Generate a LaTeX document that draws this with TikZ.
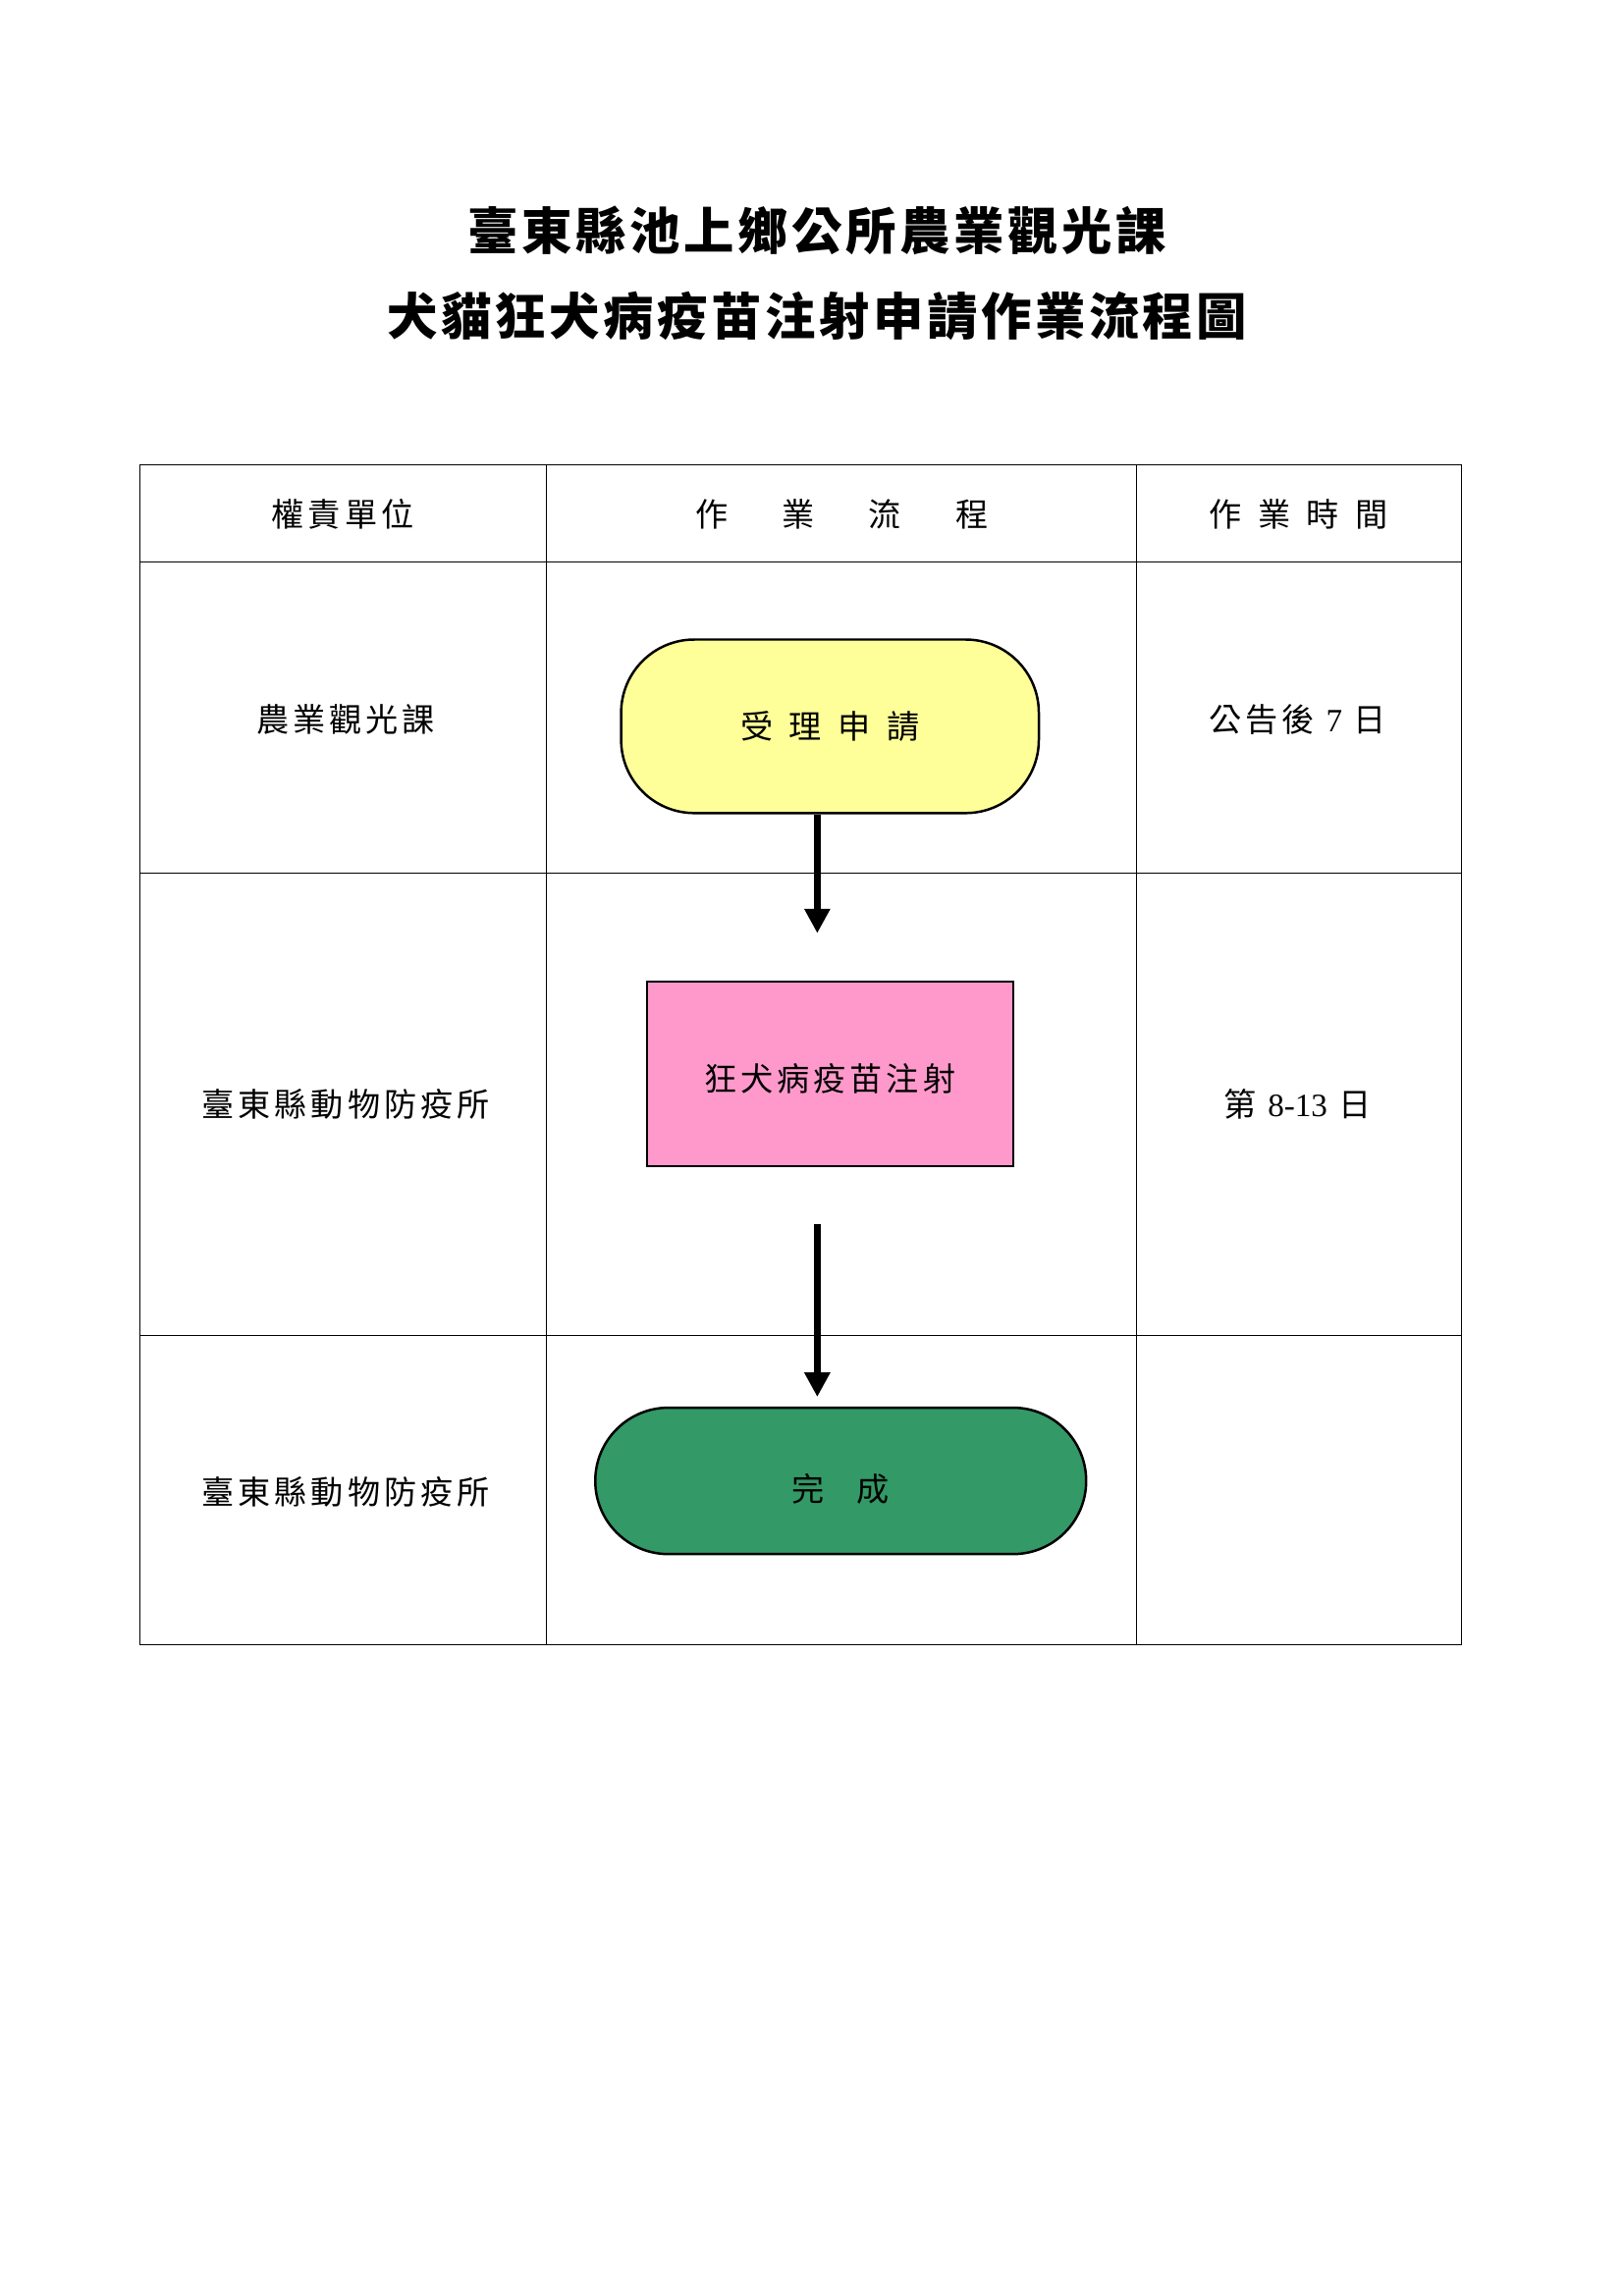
\documentclass[tikz,border=0pt]{standalone}
\usepackage{fontspec}
\setmainfont{Liberation Serif}
\newfontfamily\cjk{Noto Sans CJK TC}[LetterSpace=12]
\newfontfamily\cjktitle{Noto Sans CJK TC}[LetterSpace=7]
\usetikzlibrary{arrows.meta}

\definecolor{applyyellow}{HTML}{FFFF99}
\definecolor{shotpink}{HTML}{FF99CC}
\definecolor{donegreen}{HTML}{339966}

\begin{document}
\begin{tikzpicture}[x=0.36pt, y=-0.36pt,
    titletext/.style={font=\cjktitle\bfseries\fontsize{18.6}{22}\selectfont},
    cell/.style={font=\cjk\fontsize{12}{14}\selectfont},
    terminal/.style={cell, draw, line width=0.9pt, rounded corners=27pt},
    process/.style={cell, draw, line width=0.9pt, rectangle},
    grid/.style={draw=black, line width=0.4pt},
    flow/.style={line width=2.6pt, -{Triangle[width=9pt,length=9pt]}}]
        \fill[white] (0,0) rectangle (1663,2352);
        \useasboundingbox (0,0) rectangle (1663,2352);

        \node[titletext] (title1) at (837,236) {臺東縣池上鄉公所農業觀光課};
        \node[titletext] (title2) at (837,324) {犬貓狂犬病疫苗注射申請作業流程圖};

        % table
        \draw[grid] (143,476) rectangle (1497,1685);
        \foreach \y in {576,894,1368} \draw[grid] (143,\y) -- (1497,\y);
        \foreach \x in {560,1164} \draw[grid] (\x,476) -- (\x,1685);

        \node[cell] (unithead) at (351,527) {權責單位};
        \node[cell] (flowhead) at (862,527) {作\hspace{20pt}業\hspace{20pt}流\hspace{20pt}程};
        \node[cell] (timehead) at (1330,527) {作\hspace{6pt}業\hspace{6pt}時\hspace{6pt}間};

        \node[cell] (unit1) at (354,737) {農業觀光課};
        \node[cell] (unit2) at (354,1131) {臺東縣動物防疫所};
        \node[cell] (unit3) at (354,1528) {臺東縣動物防疫所};

        \node[cell] (time1) at (1329,737) {公告後 {\rmfamily 7} 日};
        \node[cell] (time2) at (1329,1131) {第 {\rmfamily 8-13} 日};

        % flow
        \node[terminal, fill=applyyellow, minimum width=154pt, minimum height=64pt] (apply) at (850,744) {受\hspace{6pt}理\hspace{6pt}申\hspace{6pt}請};
        \node[process, fill=shotpink, minimum width=135pt, minimum height=68pt, text height=13pt, text depth=0pt] (shot) at (850,1100) {狂犬病疫苗注射};
        \node[terminal, fill=donegreen, minimum width=181pt, minimum height=54pt, text height=15pt, text depth=0pt] (done) at (861,1517) {完\hspace{12pt}成};

        \coordinate (a1end) at (837,956);
        \coordinate (a2start) at (837,1254);
        \coordinate (a2end) at (837,1431);
        \draw[flow] (apply.south -| a1end) -- (a1end);
        \draw[flow] (a2start) -- (a2end);
\end{tikzpicture}
\end{document}
